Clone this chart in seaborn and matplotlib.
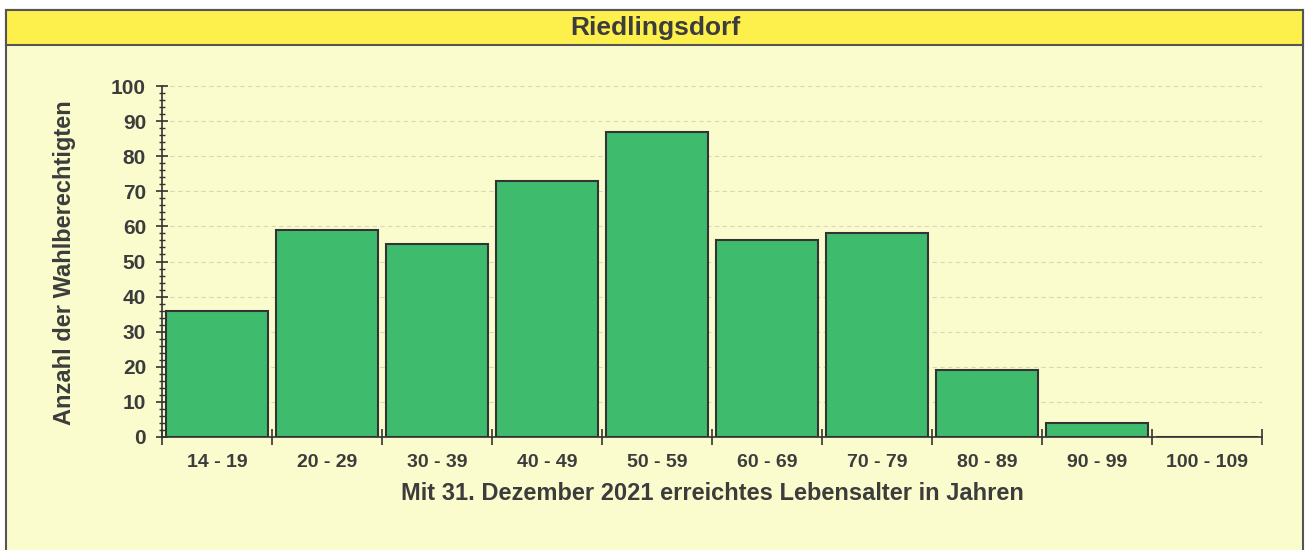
import pandas as pd
import matplotlib.pyplot as plt
import seaborn as sns
from matplotlib.patches import Rectangle
from matplotlib.ticker import MultipleLocator

# age groups and number of eligible voters
age_groups = ['14 - 19', '20 - 29', '30 - 39', '40 - 49', '50 - 59',
              '60 - 69', '70 - 79', '80 - 89', '90 - 99', '100 - 109']
voters = [36, 59, 55, 73, 87, 56, 58, 19, 4, 0]

title = 'Riedlingsdorf'
xlabel = 'Mit 31. Dezember 2021 erreichtes Lebensalter in Jahren'
ylabel = 'Anzahl der Wahlberechtigten'

bg = '#fbfccd'
band = '#fdf04c'
bar_green = '#3fbb6d'
text_grey = '#3c3c3c'

sns.set_style('white')
plt.rcParams['font.family'] = ['Liberation Sans', 'DejaVu Sans']

df = pd.DataFrame({'age': age_groups, 'count': voters})

W, H = 1310, 550
fig = plt.figure(figsize=(13.1, 5.5), dpi=100)
fig.patch.set_facecolor('white')

# panel background and border (behind the axes)
fig.patches.append(Rectangle((6 / W, -0.01), 1297 / W, 1.01 - 10 / H, transform=fig.transFigure,
                             facecolor=bg, edgecolor='#555555', linewidth=1.5, zorder=-3))
fig.patches.append(Rectangle((6 / W, 1 - 45 / H), 1297 / W, 35 / H, transform=fig.transFigure,
                             facecolor=band, edgecolor='#555555', linewidth=1.5, zorder=-2))
fig.text(0.5, 1 - 27.5 / H, title, ha='center', va='center', fontsize=19,
         fontweight='bold', color=text_grey)

ax = fig.add_axes([162 / W, 1 - 437 / H, 1100 / W, 351 / H])
ax.set_facecolor('none')
sns.barplot(data=df, x='age', y='count', color=bar_green, saturation=1,
            width=0.92, edgecolor='#333333', linewidth=1.5, ax=ax, zorder=3)

ax.set_xlim(-0.5, 9.5)
ax.set_ylim(0, 100)
ax.yaxis.set_major_locator(MultipleLocator(10))
ax.yaxis.set_minor_locator(MultipleLocator(2))
ax.grid(axis='y', which='major', color='#d8d8b8', linestyle=(0, (4, 3)), linewidth=0.8, zorder=0)
ax.set_axisbelow(True)

for s in ['top', 'right']:
    ax.spines[s].set_visible(False)
for s in ['left', 'bottom']:
    ax.spines[s].set_color('#333333')
    ax.spines[s].set_linewidth(1.2)

# category separators on the x axis
ax.set_xticks([i - 0.5 for i in range(11)], minor=True)
ax.tick_params(which='both', bottom=True, left=True)
ax.tick_params(axis='x', which='major', length=0, pad=12)
ax.tick_params(axis='x', which='minor', direction='inout', length=12, width=1.2, color='#333333')
ax.tick_params(axis='y', which='major', direction='inout', length=9, width=1.2, color='#333333', pad=7)
ax.tick_params(axis='y', which='minor', direction='inout', length=5, width=1, color='#333333')
ax.tick_params(axis='x', labelsize=14, labelcolor=text_grey)
ax.tick_params(axis='y', labelsize=15, labelcolor=text_grey)
for lab in ax.get_xticklabels() + ax.get_yticklabels():
    lab.set_fontweight('bold')

ax.set_xlabel('')
ax.set_ylabel('')
fig.text(712 / W, 1 - 493 / H, xlabel, ha='center', va='center', fontsize=17,
         fontweight='bold', color=text_grey)
fig.text(65 / W, 1 - 263 / H, ylabel, ha='center', va='center', rotation=90,
         fontsize=17, fontweight='bold', color=text_grey)

fig.savefig('out.png', dpi=100, facecolor=fig.get_facecolor())
